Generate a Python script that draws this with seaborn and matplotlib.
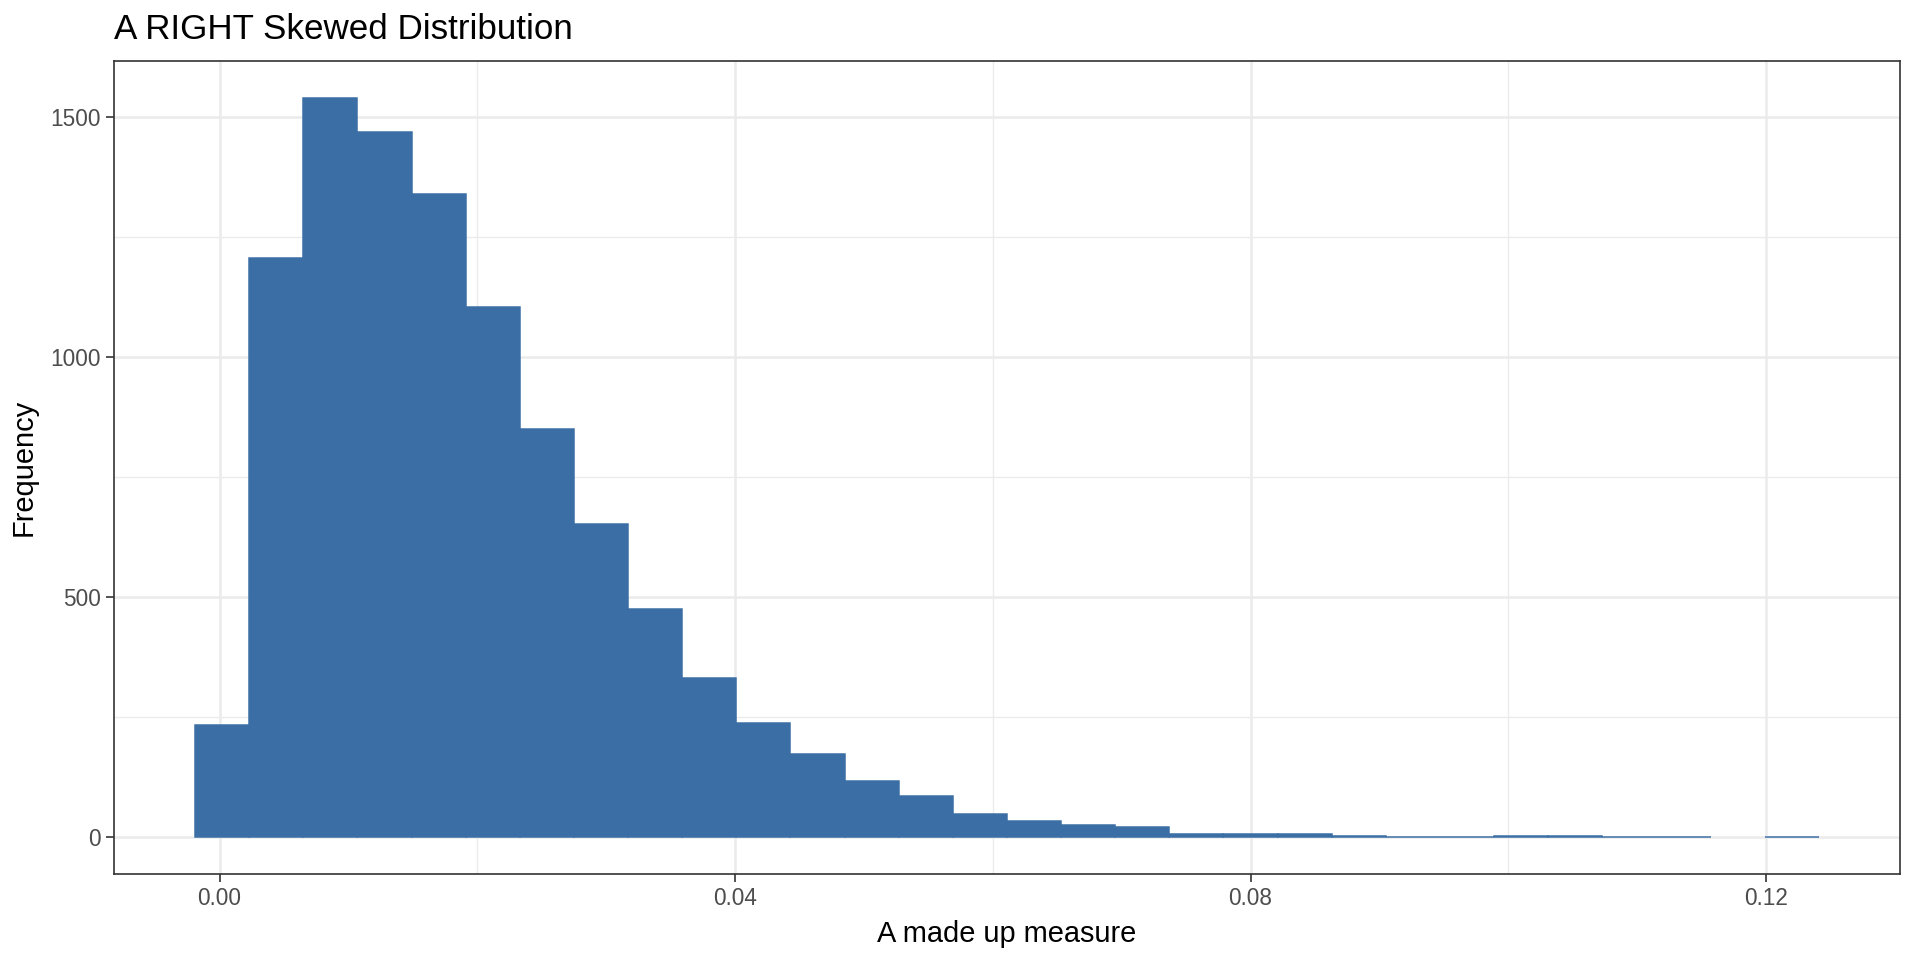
import numpy as np
import pandas as pd
import matplotlib
matplotlib.use("Agg")
import matplotlib.pyplot as plt
from matplotlib.ticker import FixedLocator
import seaborn as sns

# bin centres of the measure and the counts
bin_centers = [0.0002, 0.0044, 0.0086, 0.0128, 0.0170, 0.0212, 0.0254, 0.0296,
               0.0338, 0.0380, 0.0422, 0.0464, 0.0506, 0.0548, 0.0590, 0.0632,
               0.0674, 0.0716, 0.0758, 0.0800, 0.0842, 0.0884, 0.0926, 0.0968,
               0.1010, 0.1052, 0.1094, 0.1136, 0.1178, 0.1220]
counts = [234, 1207, 1540, 1469, 1340, 1105, 851, 653, 476, 332,
          238, 174, 117, 86, 49, 34, 26, 21, 7, 7,
          7, 2, 1, 1, 2, 2, 1, 1, 0, 1]

x_ticks = [0.00, 0.04, 0.08, 0.12]
x_tick_labels = ["0.00", "0.04", "0.08", "0.12"]
x_minor = [0.02, 0.06, 0.10]
y_ticks = [0, 500, 1000, 1500]
y_minor = [250, 750, 1250]

df = pd.DataFrame({"measure": bin_centers, "n": counts})

sns.set_theme(style="white")
plt.rcParams["font.family"] = ["Liberation Sans", "DejaVu Sans"]

fig = plt.figure(figsize=(16, 8), dpi=120)
ax = fig.add_axes([0.0593, 0.0893, 0.9303, 0.847])

bar_col = "#3A6EA5"
sns.histplot(data=df, x="measure", weights="n", binwidth=0.0042,
             binrange=(-0.0019, 0.1241), color=bar_col, alpha=1,
             edgecolor=bar_col, linewidth=0.9, ax=ax, zorder=3)

# empty bins get no outline
for p in ax.patches:
    if p.get_height() == 0:
        p.set_linewidth(0)

ax.set_xlim(-0.0082, 0.1304)
ax.set_ylim(-77, 1617)

ax.xaxis.set_major_locator(FixedLocator(x_ticks))
ax.set_xticklabels(x_tick_labels)
ax.xaxis.set_minor_locator(FixedLocator(x_minor))
ax.yaxis.set_major_locator(FixedLocator(y_ticks))
ax.set_yticklabels([str(v) for v in y_ticks])
ax.yaxis.set_minor_locator(FixedLocator(y_minor))

ax.set_axisbelow(True)
ax.grid(which="major", color="#EBEBEB", linewidth=1.5, zorder=0)
ax.grid(which="minor", color="#EBEBEB", linewidth=0.8, zorder=0)

for s in ax.spines.values():
    s.set_color("#333333")
    s.set_linewidth(1.0)
    s.set_zorder(5)

ax.tick_params(which="major", length=4.6, width=1.0, color="#333333",
               labelsize=13.5, labelcolor="#4D4D4D", pad=3, bottom=True, left=True)
ax.tick_params(which="minor", length=0)

ax.set_xlabel("A made up measure", fontsize=17.4, color="black", labelpad=6)
ax.set_ylabel("Frequency", fontsize=17.4, color="black", labelpad=8)
ax.set_title("A RIGHT Skewed Distribution", loc="left", fontsize=21,
             color="black", pad=13)

fig.savefig("out.png", dpi=120, facecolor="white")
